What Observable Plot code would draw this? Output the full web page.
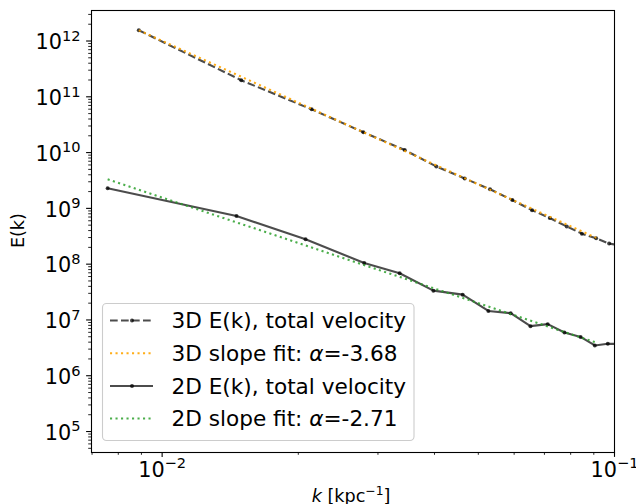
<!DOCTYPE html>
<html><head><meta charset="utf-8">
<script src="https://cdn.jsdelivr.net/npm/d3@7"></script>
<script src="https://cdn.jsdelivr.net/npm/@observablehq/plot@0.6"></script>
<style>
body{margin:0;background:#fff;font-family:"DejaVu Sans",sans-serif;}
#wrap{position:relative;width:636px;height:504px;overflow:hidden;background:#fff;}
</style></head><body><div id="wrap"></div>
<script>
// 3D spectrum (k in kpc^-1, E(k))
const k3D = [0.00888,0.01496,0.0214,0.02785,0.03437,0.04038,0.04664,0.05306,0.05945,0.06572,0.07192,0.07843,0.0847,0.09107,0.0973,0.1036];
const E3D = [1.56e12,1.98e11,5.97e10,2.32e10,1.11e10,5.64e9,3.44e9,2.20e9,1.41e9,9.29e8,6.73e8,4.74e8,3.52e8,2.91e8,2.34e8,2.15e8];
// 2D spectrum
const k2D = [0.007578,0.0146,0.02075,0.02797,0.0335,0.03978,0.04617,0.05262,0.05895,0.0652,0.07118,0.07751,0.08414,0.09046,0.09665,0.1029];
const E2D = [2.29e9,7.31e8,2.79e8,1.05e8,6.88e7,3.35e7,2.84e7,1.45e7,1.32e7,7.74e6,8.41e6,5.97e6,4.96e6,3.49e6,3.74e6,3.72e6];
// slope fits (end points of the straight log-log fit lines)
const kFit3D = [0.00888,0.0911];
const EFit3D = [1.56e12,2.96e8];
const kFit2D = [0.007578,0.0905];
const EFit2D = [3.32e9,4.0e6];
// ticks
const yMajorTicks = [1e5,1e6,1e7,1e8,1e9,1e10,1e11,1e12];
const xMajorTicks = [0.01,0.1];
const legendLabels = ["3D E(k), total velocity","3D slope fit: ","2D E(k), total velocity","2D slope fit: "];
const legendAlpha = ["", "=-3.68", "", "=-2.71"];

const rows = (ks, Es) => ks.map((k, i) => ({k, E: Es[i]}));
const d3D = rows(k3D, E3D), d2D = rows(k2D, E2D);
const f3D = rows(kFit3D, EFit3D), f2D = rows(kFit2D, EFit2D);

const yMinor = [];
for (let e = 4; e <= 12; e++) for (let m = 2; m <= 9; m++) yMinor.push(m * 10 ** e);
const xMinor = [];
for (let e = -3; e <= -2; e++) for (let m = 2; m <= 9; m++) xMinor.push(+(m * 10 ** e).toPrecision(3));
const yDom = [10 ** 4.624, 10 ** 12.547], xDom = [0.00698, 0.1];
const yMinorIn = yMinor.filter(v => v >= yDom[0] && v <= yDom[1]);
const xMinorIn = xMinor.filter(v => v >= xDom[0] && v <= xDom[1]);
const fmt = d => "10^" + String(Math.round(Math.log10(d))).replace("-", "\u2212");

const TICK_FS = 20.8, SUP_FS = 14.6, LEG_FS = 21.6, LAB_FS = 17.6;
const GREY = "black";
const plot = Plot.plot({
  width: 636, height: 504,
  marginLeft: 91, marginRight: 22, marginTop: 10, marginBottom: 52,
  style: {fontFamily: "DejaVu Sans, sans-serif", background: "white", color: "black", overflow: "visible"},
  x: {type: "log", domain: xDom},
  y: {type: "log", domain: yDom},
  marks: [
    Plot.line(d3D, {x: "k", y: "E", stroke: GREY, strokeOpacity: 0.7, strokeWidth: 2.1, strokeDasharray: "7.7,3.3", strokeLinecap: "butt", clip: true}),
    Plot.dot(d3D, {x: "k", y: "E", r: 2, fill: GREY, fillOpacity: 0.75, clip: true}),
    Plot.line(f3D, {x: "k", y: "E", stroke: "#ffa500", strokeOpacity: 0.9, strokeWidth: 2.1, strokeDasharray: "2.1,3.4", strokeLinecap: "butt", clip: true}),
    Plot.line(d2D, {x: "k", y: "E", stroke: GREY, strokeOpacity: 0.7, strokeWidth: 2.1, clip: true}),
    Plot.dot(d2D, {x: "k", y: "E", r: 2, fill: GREY, fillOpacity: 0.75, clip: true}),
    Plot.line(f2D, {x: "k", y: "E", stroke: "#2ca02c", strokeOpacity: 0.85, strokeWidth: 2.1, strokeDasharray: "2.1,3.4", strokeLinecap: "butt", clip: true}),
    Plot.axisY(yMajorTicks, {tickSize: 4.9, strokeWidth: 1.1, tickFormat: () => "", label: null}),
    Plot.axisY(yMinorIn, {tickSize: 2.8, strokeWidth: 0.85, tickFormat: () => "", label: null}),
    Plot.axisX(xMajorTicks, {tickSize: 4.9, strokeWidth: 1.1, tickFormat: () => "", label: null}),
    Plot.axisX(xMinorIn, {tickSize: 2.8, strokeWidth: 0.85, tickFormat: () => "", label: null}),
    Plot.text(yMajorTicks, {y: d => d, frameAnchor: "left", textAnchor: "end", lineAnchor: "bottom", dx: -10.9, dy: 8.3, text: fmt, fontSize: TICK_FS, fill: "black"}),
    Plot.text(xMajorTicks, {x: d => d, frameAnchor: "bottom", lineAnchor: "bottom", dy: 24, text: fmt, fontSize: TICK_FS, fill: "black"}),
    Plot.frame({stroke: "black", strokeWidth: 1.1})
  ]
});
document.getElementById("wrap").appendChild(plot);

const svg = d3.select(plot);
// superscripts on tick labels
svg.selectAll("text").each(function () {
  const m = /^10\^(\u2212?\d+)$/.exec(this.textContent);
  if (!m) return;
  const s = d3.select(this);
  s.text(null);
  s.append("tspan").text("10");
  s.append("tspan").attr("font-size", SUP_FS).attr("dy", -8.5).text(m[1]);
});

// axis labels
svg.append("text")
  .attr("transform", "translate(18.5,230.6) rotate(-90)")
  .attr("text-anchor", "middle").attr("dy", "0.32em")
  .attr("font-size", LAB_FS).attr("fill", "black").text("E(k)");
const xl = svg.append("text").attr("x", 351).attr("y", 502).attr("text-anchor", "middle")
  .attr("font-size", LAB_FS).attr("fill", "black");
xl.append("tspan").attr("font-style", "italic").text("k");
xl.append("tspan").text(" [kpc");
xl.append("tspan").attr("font-size", 12.3).attr("dy", -7).text("\u22121");
xl.append("tspan").attr("dy", 7).text("]");

// legend
const lg = svg.append("g");
lg.append("rect").attr("x", 102.5).attr("y", 303.5).attr("width", 311.5).attr("height", 137)
  .attr("rx", 4).attr("fill", "white").attr("fill-opacity", 0.8)
  .attr("stroke", "#cccccc").attr("stroke-width", 1.1);
const legendStyles = [
  {stroke: GREY, op: 0.7, dash: "7.7,3.3", marker: true},
  {stroke: "#ffa500", op: 0.9, dash: "2.1,3.4", marker: false},
  {stroke: GREY, op: 0.7, dash: null, marker: true},
  {stroke: "#2ca02c", op: 0.85, dash: "2.1,3.4", marker: false}
];
const rowY = [320.5, 353.3, 386, 418.5];
legendLabels.forEach((lab, i) => {
  const st = legendStyles[i], y = rowY[i];
  const ln = lg.append("line").attr("x1", 110).attr("x2", 153).attr("y1", y).attr("y2", y)
    .attr("stroke", st.stroke).attr("stroke-opacity", st.op).attr("stroke-width", 2.1);
  if (st.dash) ln.attr("stroke-dasharray", st.dash);
  if (st.marker) lg.append("circle").attr("cx", 132).attr("cy", y).attr("r", 2).attr("fill", GREY).attr("fill-opacity", 0.75);
  const t = lg.append("text").attr("x", 171.5).attr("y", y).attr("dy", "0.36em")
    .attr("text-anchor", "start").attr("font-size", LEG_FS).attr("fill", "black");
  t.append("tspan").text(lab);
  if (legendAlpha[i]) {
    t.append("tspan").attr("font-style", "italic").text("\u03b1");
    t.append("tspan").text(legendAlpha[i]);
  }
});
</script></body></html>
